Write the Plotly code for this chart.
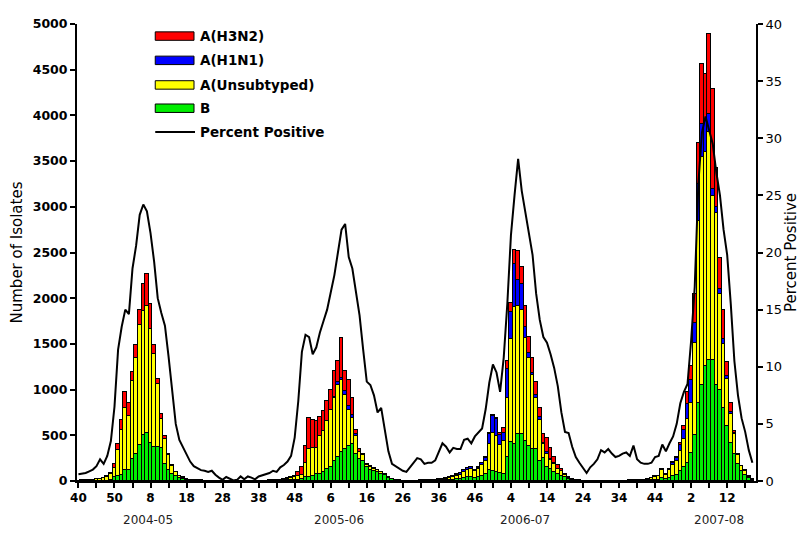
import plotly.graph_objects as go

# ---- data (weekly, week 40 of 2004 through week 19 of 2008) ----
B = [1,1,1,2,2,3,4,5,5,10,
     40,60,70,115,120,240,290,390,500,530,
     420,370,370,360,190,115,80,50,30,20,
     12,8,6,4,3,2,2,1,1,1,
     1,1,1,1,1,1,1,1,1,1,
     1,2,2,3,3,4,5,6,8,10,
     10,15,20,40,43,60,80,80,97,133,
     150,222,258,312,348,383,400,300,240,220,
     150,125,110,95,80,65,35,20,10,6,
     4,3,2,2,2,2,3,3,4,5,
     6,8,10,12,15,20,25,35,40,45,
     35,45,60,80,115,110,100,90,80,260,
     430,400,510,510,440,380,350,345,220,255,
     150,135,97,80,60,40,20,10,5,3,
     2,2,1,1,1,1,1,1,1,1,
     1,1,2,2,2,3,3,4,6,8,
     10,12,30,20,35,55,70,110,150,200,
     310,500,850,1050,1260,1320,1320,1050,1000,800,
     600,420,300,190,110,70,30,12]

A_unsub = [4,5,7,8,12,15,21,30,42,70,
           105,280,490,685,590,850,1060,1320,1360,1380,
           1240,1020,690,320,270,165,80,45,27,18,
           13,7,4,4,3,3,3,3,3,2,
           2,2,2,2,2,2,2,2,2,2,
           2,2,3,3,5,6,9,14,17,22,
           35,40,50,160,307,305,285,410,448,527,
           630,688,792,788,592,397,290,195,80,65,
           30,27,25,20,17,13,10,5,2,2,
           1,2,3,3,3,4,5,7,8,10,
           12,14,16,22,25,38,45,65,80,90,
           70,85,110,140,290,420,390,300,360,650,
           1120,1505,1400,1360,1130,970,805,560,450,145,
           145,90,90,50,45,25,12,6,4,3,
           2,2,2,2,2,2,2,2,2,2,
           2,3,3,4,4,5,7,10,14,25,
           35,42,85,50,80,115,150,220,310,480,
           540,1010,2000,2500,2340,2500,1799,1880,1050,700,
           520,310,215,90,50,40,18,7]

A_H1N1 = [0,0,0,0,0,0,0,0,0,0,
          0,0,0,0,0,0,0,0,0,0,
          0,0,0,0,0,0,0,0,0,0,
          0,0,0,0,0,0,0,0,0,0,
          0,0,0,0,0,0,0,0,0,0,
          0,0,0,0,0,0,0,0,0,0,
          0,0,0,0,0,0,0,0,0,0,
          0,10,30,30,40,40,30,15,0,0,
          0,0,0,0,0,0,0,0,0,0,
          0,0,0,0,0,0,0,0,0,0,
          2,3,4,6,8,12,14,18,18,18,
          14,15,22,30,110,185,190,115,90,310,
          300,465,285,290,120,50,25,35,30,20,
          25,20,13,5,5,3,2,1,0,0,
          0,0,0,0,0,0,0,0,0,0,
          0,0,0,0,0,0,0,0,0,2,
          3,4,12,7,12,25,28,60,100,160,
          250,215,400,360,350,200,80,70,55,50,
          30,20,10,4,2,1,0,0]

A_H3N2 = [0,0,0,0,0,0,0,0,3,10,
          40,60,110,170,140,100,140,160,300,350,
          280,100,60,50,30,15,10,5,3,2,
          0,0,0,0,0,0,0,0,0,0,
          0,0,0,0,0,0,0,0,0,0,
          0,0,0,0,0,0,0,0,3,8,
          15,40,80,180,340,305,295,210,225,220,
          220,280,230,440,220,280,190,50,30,15,
          10,8,5,5,3,2,0,0,0,0,
          0,0,0,0,0,0,0,0,0,0,
          0,0,0,0,2,2,2,4,5,5,
          3,5,5,8,12,12,10,22,50,98,
          100,160,320,180,230,180,170,140,100,90,
          150,120,60,35,20,12,6,3,1,0,
          0,0,0,0,0,0,0,0,0,0,
          0,0,0,0,0,0,0,0,0,1,
          2,2,6,3,6,9,10,30,40,135,
          161,325,450,648,500,871,1090,430,339,320,
          150,100,20,10,6,4,2,1]

pct_positive = [0.6,0.65,0.7,0.85,1.0,1.3,1.9,1.5,2.2,3.5,
                6.5,11.5,13.5,15.0,14.6,18.6,20.6,23.3,24.2,23.6,
                21.7,19.2,16.0,14.7,13.6,10.9,7.8,5.0,3.6,3.0,
                2.4,1.7,1.3,1.1,0.95,0.9,0.8,0.9,0.55,0.3,
                0.1,0.35,0.2,0.05,0.1,0.4,0.15,0.4,0.3,0.15,
                0.4,0.5,0.6,0.7,0.9,0.8,1.2,1.4,1.7,2.2,
                3.8,7.0,11.3,12.8,12.6,11.1,11.7,13.0,14.0,15.0,
                16.5,18.0,20.0,22.0,22.5,19.6,18.6,16.5,14.5,11.5,
                8.7,8.4,7.5,6.0,6.4,4.5,2.6,1.5,1.3,1.1,
                0.9,0.8,1.2,1.6,2.0,1.9,1.5,1.6,1.6,1.8,
                2.6,3.3,3.0,2.5,2.9,2.8,2.8,3.6,3.7,3.3,
                3.9,4.3,4.6,6.3,8.6,10.2,9.5,7.8,10.8,15.5,
                21.5,25.0,28.2,25.4,23.6,21.8,19.8,16.4,14.1,12.6,
                12.1,11.1,9.9,8.3,6.0,4.3,4.2,3.0,2.1,1.6,
                1.2,0.7,1.2,1.5,1.9,2.7,2.5,2.8,2.4,2.1,
                2.2,2.4,2.5,2.2,3.1,1.9,1.6,1.5,1.5,1.6,
                2.1,2.2,3.2,2.6,3.3,3.9,5.0,6.8,7.8,8.5,
                12.3,17.0,26.0,30.5,31.9,30.8,29.5,27.0,25.0,22.0,
                19.8,15.5,10.5,7.5,5.5,4.3,2.7,1.6]

week_tick_labels = ['40','50','8','18','28','38','48','6','16','26',
                    '36','46','4','14','24','34','44','2','12']
seasons = ['2004-05', '2005-06', '2006-07', '2007-08']
season_centers = [19.2, 72.4, 124, 177.8]   # week index under which each label sits

series = [('B', B, '#00EE00'),
          ('A(Unsubtyped)', A_unsub, '#FFFF00'),
          ('A(H1N1)', A_H1N1, '#0000FF'),
          ('A(H3N2)', A_H3N2, '#FF0000')]

x_idx = list(range(len(B)))

fig = go.Figure()
for name, vals, col in series:
    fig.add_trace(go.Bar(x=x_idx, y=vals, name=name, width=1,
                         marker=dict(color=col, line=dict(color='black', width=1)),
                         showlegend=False))
fig.add_trace(go.Scatter(x=x_idx, y=pct_positive, name='Percent Positive', yaxis='y2',
                         mode='lines', line=dict(color='black', width=2),
                         showlegend=False))

tickvals = list(range(0, 190, 5))
ticktext = [week_tick_labels[v // 10] if v % 10 == 0 else '' for v in tickvals]

# page body has an 8px margin; the figure is sized so that the plot area
# lands at x 74..757, y 16..481 of the window
FIG_W, FIG_H = 797, 531
ML, MR, MT, MB = 66, 48, 8, 58
PLOT_W = FIG_W - ML - MR
PLOT_H = FIG_H - MT - MB

FONT = 'DejaVu Sans'
fig.update_layout(
    width=FIG_W, height=FIG_H,
    margin=dict(l=ML, r=MR, t=MT, b=MB, pad=0),
    barmode='stack', bargap=0,
    plot_bgcolor='white', paper_bgcolor='white',
    font=dict(family=FONT, color='black'),
    xaxis=dict(range=[-0.4, 188], tickmode='array', tickvals=tickvals, ticktext=ticktext,
               ticks='outside', ticklen=5, tickwidth=1.5, tickcolor='black',
               showline=True, linecolor='black', linewidth=2, mirror=False,
               showgrid=False, zeroline=False, tickangle=0,
               tickfont=dict(family=FONT, size=12, weight='bold', color='black')),
    yaxis=dict(range=[0, 5000], dtick=500, tick0=0, ticks='outside', ticklen=5,
               tickwidth=1.5, tickcolor='black',
               showline=True, linecolor='black', linewidth=2,
               showgrid=False, zeroline=False,
               tickfont=dict(family=FONT, size=12.5, weight='bold', color='black'),
               title=dict(text='Number of Isolates', standoff=6,
                          font=dict(family=FONT, size=15, color='black'))),
    yaxis2=dict(range=[0, 40], dtick=5, tick0=0, overlaying='y', side='right',
                ticks='outside', ticklen=5, tickwidth=1.5, tickcolor='black',
                showline=True, linecolor='black', linewidth=2,
                showgrid=False, zeroline=False,
                tickfont=dict(family=FONT, size=13, color='black'),
                title=dict(text='Percent Positive', standoff=4,
                           font=dict(family=FONT, size=15, color='black'))),
)

# season labels under the week axis (about 40px below the axis)
for s, c in zip(seasons, season_centers):
    fig.add_annotation(x=c, xref='x', y=-40.0 / PLOT_H, yref='paper', text=s, showarrow=False,
                       font=dict(family=FONT, size=12, color='#222222'),
                       xanchor='center', yanchor='middle')

# legend drawn inside the plot (wide swatches like the original);
# positions given relative to the plot area's top-left corner in pixels
def px_x(p):
    return p / PLOT_W

def px_y(p):
    return 1 - p / PLOT_H

legend_items = [('A(H3N2)', '#FF0000', 12.3),
                ('A(H1N1)', '#0000FF', 37.0),
                ('A(Unsubtyped)', '#FFFF00', 62.0),
                ('B', '#00EE00', 85.7)]
for label, col, cy in legend_items:
    fig.add_shape(type='rect', xref='paper', yref='paper',
                  x0=px_x(78.7), x1=px_x(117.7), y0=px_y(cy + 4.3), y1=px_y(cy - 4.3),
                  fillcolor=col, line=dict(color='black', width=1))
    fig.add_annotation(x=px_x(122), y=px_y(cy), xref='paper', yref='paper', text=label,
                       showarrow=False, xanchor='left', yanchor='middle',
                       font=dict(family=FONT, size=13.5, weight='bold', color='black'))
fig.add_shape(type='line', xref='paper', yref='paper',
              x0=px_x(78.7), x1=px_x(118.7), y0=px_y(110), y1=px_y(110),
              line=dict(color='black', width=2))
fig.add_annotation(x=px_x(122), y=px_y(110), xref='paper', yref='paper', text='Percent Positive',
                   showarrow=False, xanchor='left', yanchor='middle',
                   font=dict(family=FONT, size=13.5, weight='bold', color='black'))

fig.write_html('out.html')
